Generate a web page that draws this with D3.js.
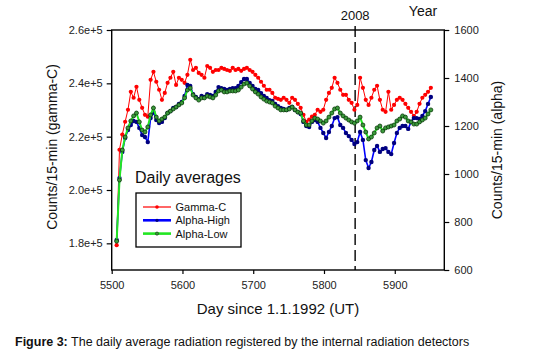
<!DOCTYPE html>
<html><head><meta charset="utf-8">
<script src="https://cdn.jsdelivr.net/npm/d3@7"></script>
<style>body{margin:0;background:#fff}svg{display:block;font-family:Arial,"Liberation Sans",sans-serif}</style>
</head><body><svg width="536" height="360"></svg>
<script>
const days = [5507,5511,5515,5519,5523,5527,5531,5535,5539,5543,5547,5551,5555,5559,5563,5567,
5571,5575,5579,5583,5587,5591,5595,5599,5603,5607,5611,5615,5619,5623,5627,5631,
5635,5639,5643,5647,5651,5655,5659,5663,5667,5671,5675,5679,5683,5687,5691,5695,
5699,5703,5707,5711,5715,5719,5723,5727,5731,5735,5739,5743,5747,5751,5755,5759,
5763,5767,5771,5775,5779,5783,5787,5791,5795,5799,5803,5807,5811,5815,5819,5823,
5827,5831,5835,5839,5843,5847,5851,5855,5859,5863,5867,5871,5875,5879,5883,5887,
5891,5895,5899,5903,5907,5911,5915,5919,5923,5927,5931,5935,5939,5943,5947,5951];

// Gamma-C, counts/15-min (thousands), left axis
const gammaC = [179.3,215.1,220.8,225.6,230.1,236.8,234.6,238.7,233.8,230.8,228.2,227.5,241.3,244.3,240.6,237.6,
233.8,236.4,240.2,242.1,244.3,239.4,242.1,241.3,240.2,243.2,248.8,245.0,245.8,243.9,243.2,242.1,
246.5,245.8,244.3,245.0,245.0,245.8,245.4,245.0,244.7,245.8,245.0,245.4,244.7,245.4,245.8,245.0,
244.3,243.2,242.1,240.6,239.1,237.6,237.6,236.4,234.6,234.2,233.8,234.6,233.8,232.7,234.6,233.8,
232.3,230.8,228.2,225.6,226.4,227.5,228.2,230.1,229.3,230.1,233.8,236.4,238.3,242.1,240.2,237.6,
235.7,235.7,233.8,232.7,230.1,231.9,242.1,238.3,233.8,231.9,234.6,237.6,239.1,233.8,230.1,229.3,
236.8,230.1,231.9,233.8,234.6,233.8,232.3,230.8,229.3,227.8,229.3,232.3,234.6,235.7,236.8,238.3];

// Alpha detectors, counts/15-min, right axis
const alphaHigh = [725,983,1092,1150,1183,1204,1221,1217,1192,1162,1154,1133,1233,1258,1225,1212,
1217,1233,1254,1262,1275,1279,1292,1300,1325,1371,1367,1333,1321,1312,1325,1321,
1333,1329,1325,1342,1362,1358,1354,1350,1354,1358,1358,1367,1383,1396,1396,1379,
1367,1354,1350,1337,1325,1317,1308,1304,1292,1283,1275,1271,1267,1275,1279,1267,
1258,1250,1217,1200,1196,1217,1225,1217,1192,1171,1150,1175,1200,1233,1237,1204,
1192,1171,1158,1142,1125,1133,1175,1142,1058,1025,1050,1100,1117,1092,1104,1108,
1092,1083,1129,1171,1192,1200,1200,1188,1217,1233,1233,1229,1242,1262,1292,1321];

const alphaLow = [720,975,1100,1154,1192,1221,1242,1254,1217,1183,1175,1196,1246,1275,1237,1221,
1229,1237,1254,1262,1271,1279,1288,1296,1317,1350,1358,1329,1317,1308,1317,1317,
1325,1321,1317,1329,1346,1350,1342,1342,1346,1346,1346,1350,1362,1375,1379,1367,
1354,1342,1333,1321,1312,1304,1300,1296,1283,1275,1267,1267,1267,1271,1279,1267,
1258,1254,1221,1204,1204,1221,1233,1229,1221,1212,1221,1237,1254,1271,1275,1254,
1242,1233,1225,1217,1212,1221,1237,1204,1175,1146,1154,1171,1192,1200,1179,1192,
1196,1200,1204,1221,1229,1242,1237,1221,1217,1208,1208,1217,1225,1233,1250,1267];

const seriesNames = ["Gamma-C","Alpha-High","Alpha-Low"];
const leftTicks = [180000,200000,220000,240000,260000];
const rightTicks = [600,800,1000,1200,1400,1600];
const xTicks = [5500,5600,5700,5800,5900];
const yearMarkDay = 5844;
const yearMarkLabel = "2008";

const svg = d3.select("svg");
const L = 111.7, R = 444.3, T = 30, B = 270;
const x = d3.scaleLinear().domain([5500, 5970]).range([L, R]);
const yL = d3.scaleLinear().domain([170000, 260000]).range([B, T]);
const yR = d3.scaleLinear().domain([600, 1600]).range([B, T]);

// axes
const gx = svg.append("g").attr("transform", `translate(0,${B})`)
  .call(d3.axisBottom(x).tickValues(xTicks).tickFormat(d3.format("d")).tickSize(4).tickPadding(7).tickSizeOuter(0));
const gl = svg.append("g").attr("transform", `translate(${L},0)`)
  .call(d3.axisLeft(yL).tickValues(leftTicks).tickFormat(d => (d / 1e5).toFixed(1) + "e+5").tickSize(5).tickPadding(4).tickSizeOuter(0));
const gr = svg.append("g").attr("transform", `translate(${R},0)`)
  .call(d3.axisRight(yR).tickValues(rightTicks).tickFormat(d3.format("d")).tickSize(5).tickPadding(5).tickSizeOuter(0));
[gx, gl, gr].forEach(g => {
  g.select(".domain").remove();
  g.selectAll(".tick line").attr("stroke", "#000").attr("stroke-width", 1.2);
  g.selectAll(".tick text").attr("font-size", 11).attr("fill", "#222")
    .attr("font-family", "Arial, 'Liberation Sans', sans-serif");
});

// frame
svg.append("rect").attr("x", L).attr("y", T).attr("width", R - L).attr("height", B - T)
  .attr("fill", "none").attr("stroke", "#000").attr("stroke-width", 1.4);

// year marker
svg.append("line").attr("x1", x(yearMarkDay)).attr("x2", x(yearMarkDay))
  .attr("y1", 26).attr("y2", B).attr("stroke", "#000").attr("stroke-width", 1.4)
  .attr("stroke-dasharray", "11,5");
svg.append("text").attr("x", x(yearMarkDay)).attr("y", 20).attr("text-anchor", "middle")
  .attr("font-size", 13).attr("fill", "#111").text(yearMarkLabel);
svg.append("text").attr("x", 423).attr("y", 16).attr("text-anchor", "middle")
  .attr("font-size", 14).attr("fill", "#111").text("Year");

// series
const series = [
  { name: seriesNames[0], vals: gammaC.map(v => v * 1000), y: yL, line: "#ff0000", lw: 1, mfill: "#ff0000", mstroke: "none", r: 2.1 },
  { name: seriesNames[1], vals: alphaHigh, y: yR, line: "#0000ff", lw: 1.6, mfill: "#000080", mstroke: "none", r: 2.2 },
  { name: seriesNames[2], vals: alphaLow, y: yR, line: "#22e622", lw: 2, mfill: "#3c9a3c", mstroke: "#0a3a0a", r: 2 }
];
series.forEach(s => {
  const pts = days.map((d, i) => [d, s.vals[i]]);
  svg.append("path").datum(pts)
    .attr("d", d3.line().x(p => x(p[0])).y(p => s.y(p[1])))
    .attr("fill", "none").attr("stroke", s.line).attr("stroke-width", s.lw);
  svg.append("g").selectAll("circle").data(pts).join("circle")
    .attr("cx", p => x(p[0])).attr("cy", p => s.y(p[1])).attr("r", s.r)
    .attr("fill", s.mfill).attr("stroke", s.mstroke).attr("stroke-width", 0.8);
});

// legend
svg.append("text").attr("x", 135).attr("y", 183).attr("font-size", 16).attr("fill", "#111").text("Daily averages");
svg.append("rect").attr("x", 136).attr("y", 193).attr("width", 105).attr("height", 54)
  .attr("fill", "#fff").attr("stroke", "#000").attr("stroke-width", 1.3);
series.forEach((s, i) => {
  const cy = 207 + i * 13.3;
  svg.append("line").attr("x1", 143).attr("x2", 171).attr("y1", cy).attr("y2", cy)
    .attr("stroke", s.line).attr("stroke-width", i === 0 ? 1.2 : 2.6);
  svg.append("circle").attr("cx", 157).attr("cy", cy).attr("r", i === 0 ? 1.8 : 1.6)
    .attr("fill", s.mfill).attr("stroke", s.mstroke).attr("stroke-width", 0.6);
  svg.append("text").attr("x", 175.5).attr("y", cy + 4).attr("font-size", 11).attr("fill", "#111").text(s.name);
});

// axis titles
svg.append("text").attr("transform", "translate(57,147) rotate(-90)").attr("text-anchor", "middle")
  .attr("font-size", 14).attr("fill", "#111").text("Counts/15-min (gamma-C)");
svg.append("text").attr("transform", "translate(502,150) rotate(-90)").attr("text-anchor", "middle")
  .attr("font-size", 14).attr("fill", "#111").text("Counts/15-min (alpha)");
svg.append("text").attr("x", (L + R) / 2).attr("y", 314).attr("text-anchor", "middle")
  .attr("font-size", 15).attr("fill", "#111").text("Day since 1.1.1992 (UT)");

// caption
const cap = svg.append("text").attr("x", 15).attr("y", 346).attr("font-size", 12.5).attr("fill", "#111");
cap.append("tspan").attr("font-weight", "bold").text("Figure 3:");
cap.append("tspan").text(" The daily average radiation registered by the internal radiation detectors");
</script>
</body></html>
